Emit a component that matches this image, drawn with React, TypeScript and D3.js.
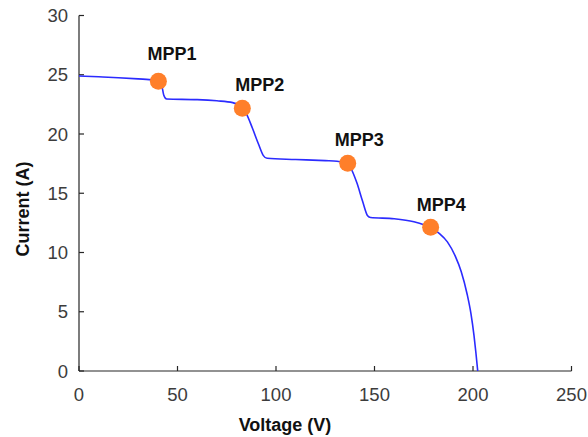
import React from "react";
import * as d3 from "d3";

const voltage = [0, 10, 20, 30, 38, 40.5, 42, 43, 44.5, 60, 70, 78, 82, 85, 88, 91, 93.5, 95.5, 110, 125, 131, 135, 138, 141, 144, 146.5, 148, 160, 170, 175, 179, 183, 187, 191, 194, 197, 199, 200.5, 201.5, 202.4];
const current = [24.9, 24.83, 24.75, 24.65, 24.55, 24.45, 24.1, 23.3, 22.95, 22.9, 22.8, 22.65, 22.35, 21.7, 20.5, 19.2, 18.2, 17.95, 17.85, 17.75, 17.7, 17.55, 17.1, 15.9, 14.3, 13.1, 12.95, 12.85, 12.6, 12.35, 12.05, 11.6, 10.9, 9.7, 8.4, 6.5, 4.8, 3.0, 1.5, 0];

const mppLabels = ["MPP1", "MPP2", "MPP3", "MPP4"];
const mppVoltage = [40.3, 82.9, 136.4, 178.5];
const mppCurrent = [24.45, 22.17, 17.53, 12.13];

const xTicks = [0, 50, 100, 150, 200, 250];
const yTicks = [0, 5, 10, 15, 20, 25, 30];

const labelDx = [-11, -7, -13, -14];
const labelDy = [-21, -17, -17, -16];

export default function App() {
  const W = 588, H = 437;
  const x = d3.scaleLinear().domain([0, 250]).range([79, 571.5]);
  const y = d3.scaleLinear().domain([0, 30]).range([371, 15.5]);
  const pts: [number, number][] = voltage.map((v, i) => [v, current[i]]);
  const line = d3
    .line<[number, number]>()
    .x((d) => x(d[0]))
    .y((d) => y(d[1]))
    .curve(d3.curveMonotoneX);
  const font = "Arial, 'Liberation Sans', Helvetica, sans-serif";
  const tickColor = "#3c3c3c";
  return (
    <svg
      width={W}
      height={H}
      style={{ position: "absolute", left: 0, top: 0, background: "#fff" }}
      fontFamily={font}
    >
      <rect width={W} height={H} fill="#fff" />
      <line x1={x(0)} x2={x(250)} y1={y(0)} y2={y(0)} stroke="#262626" strokeWidth={1.2} />
      <line x1={x(0)} x2={x(0)} y1={y(0)} y2={y(30)} stroke="#262626" strokeWidth={1.2} />
      {xTicks.map((t) => (
        <g key={"x" + t}>
          <line x1={x(t)} x2={x(t)} y1={y(0)} y2={y(0) - 5} stroke="#262626" strokeWidth={1.2} />
          <text x={x(t)} y={y(0) + 30} textAnchor="middle" fontSize={18.5} fill={tickColor}>
            {t}
          </text>
        </g>
      ))}
      {yTicks.map((t) => (
        <g key={"y" + t}>
          <line x1={x(0)} x2={x(0) + 5} y1={y(t)} y2={y(t)} stroke="#262626" strokeWidth={1.2} />
          <text x={x(0) - 11} y={y(t) + 6.5} textAnchor="end" fontSize={18.5} fill={tickColor}>
            {t}
          </text>
        </g>
      ))}
      <path d={line(pts) || ""} fill="none" stroke="#2b2bff" strokeWidth={1.6} />
      {mppLabels.map((lab, i) => (
        <g key={lab}>
          <circle cx={x(mppVoltage[i])} cy={y(mppCurrent[i])} r={8.5} fill="#ff7f2a" />
          <text
            x={x(mppVoltage[i]) + labelDx[i]}
            y={y(mppCurrent[i]) + labelDy[i]}
            fontSize={18}
            fontWeight="bold"
            fill="#111"
          >
            {lab}
          </text>
        </g>
      ))}
      <text x={285} y={431} textAnchor="middle" fontSize={18} fontWeight="bold" fill="#111">
        Voltage (V)
      </text>
      <text
        transform={`translate(29,209) rotate(-90)`}
        textAnchor="middle"
        fontSize={18}
        fontWeight="bold"
        fill="#111"
      >
        Current (A)
      </text>
    </svg>
  );
}
